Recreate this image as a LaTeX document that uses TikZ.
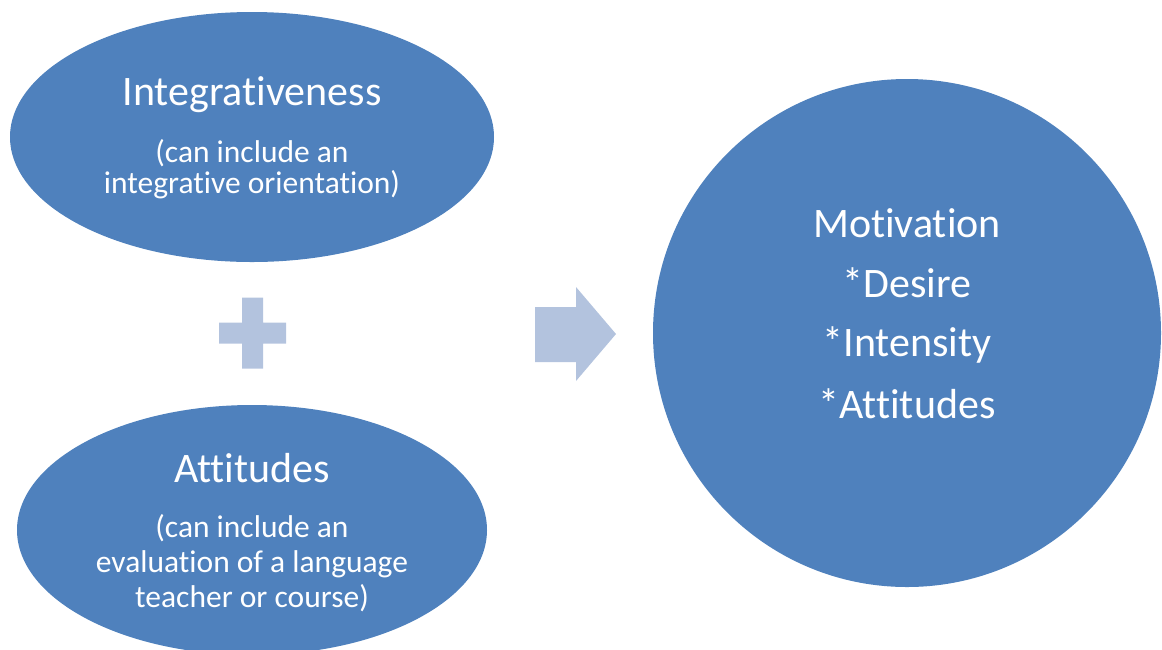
\documentclass[tikz,border=0pt]{standalone}
\usepackage{fontspec}
\setmainfont{Carlito}[Ligatures=NoCommon,RawFeature=-liga]
\usetikzlibrary{shapes.geometric,calc}
\definecolor{blobblue}{RGB}{79,129,189}
\definecolor{paleblue}{RGB}{179,195,222}
\tikzset{
  blob/.style={ellipse,fill=blobblue,inner sep=0pt},
  headline/.style={text=white,anchor=base,inner sep=0pt,font=\fontsize{42}{46}\selectfont},
  smalltext/.style={text=white,anchor=base,inner sep=0pt,font=\fontsize{31.5}{35}\selectfont}
}

\begin{document}
\begin{tikzpicture}[x=1pt,y=-1pt]
\useasboundingbox (0,0) rectangle (1162,649);
\clip (0,0) rectangle (1162,649);
% the two ellipses on the left
\node[blob,minimum width=484pt,minimum height=250pt] (integ) at (252,137) {};
\node[blob,minimum width=470pt,minimum height=250pt] (attit) at (252,530) {};
\node[headline] (integtitle) at (252,105) {Integrativeness};
\node[smalltext] (intega) at (252,162) {(can include an};
\node[smalltext] (integb) at (252,193) {integrative orientation)};
\node[headline] (attittitle) at (252,482) {Attitudes};
\node[smalltext] (attita) at (252,537) {(can include an};
\node[smalltext] (attitb) at (252,572) {evaluation of a language};
\node[smalltext] (attitc) at (252,607) {teacher or course)};
% plus sign and block arrow
\coordinate (plus) at (252,333);
\fill[paleblue] ($(plus)+(-33,-10.5)$) -- ++(23,0) -- ++(0,-25) -- ++(21,0) -- ++(0,25)
  -- ++(23,0) -- ++(0,21) -- ++(-23,0) -- ++(0,25) -- ++(-21,0) -- ++(0,-25) -- ++(-23,0) -- cycle;
\fill[paleblue] (535,307) -- (576,307) -- (576,287) -- (616,334) -- (576,381) -- (576,362) -- (535,362) -- cycle;
% the circle on the right
\node[circle,fill=blobblue,inner sep=0pt,minimum size=508pt] (motiv) at (907,333) {};
\node[headline] (motivtitle) at (907,237) {Motivation};
\node[headline] (desire) at (907,297) {*Desire};
\node[headline] (intens) at (907,356) {*Intensity};
\node[headline] (attitu) at (907,418) {*Attitudes};
\end{tikzpicture}
\end{document}
